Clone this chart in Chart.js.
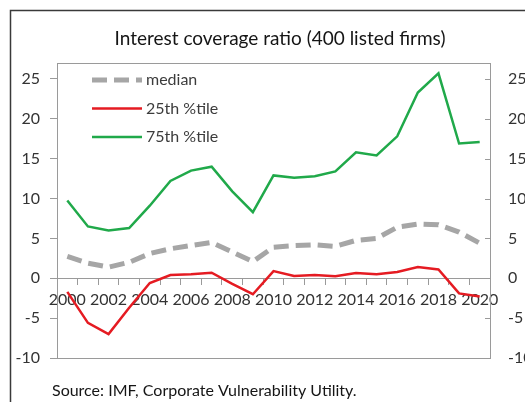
<!DOCTYPE html>
<html>
<head>
<meta charset="utf-8">
<script src="https://cdn.jsdelivr.net/npm/chart.js@4"></script>
<style>
  html, body { margin: 0; padding: 0; background: #fff; }
  #wrap { width: 525px; height: 402px; position: relative; }
</style>
</head>
<body>
<div id="wrap"><canvas id="chart" width="525" height="402"></canvas></div>
<script>
// values
const years = ["2000", "2001", "2002", "2003", "2004", "2005", "2006", "2007", "2008", "2009", "2010",
               "2011", "2012", "2013", "2014", "2015", "2016", "2017", "2018", "2019", "2020"];
const median = [2.75, 1.9, 1.4, 2.0, 3.1, 3.7, 4.1, 4.5, 3.3, 2.1, 3.9, 4.1, 4.2, 4.0, 4.75, 5.0, 6.4, 6.8, 6.7, 5.8, 4.4];
const p25 = [-1.7, -5.6, -7.0, -3.7, -0.6, 0.4, 0.5, 0.7, -0.7, -2.0, 0.9, 0.3, 0.4, 0.25, 0.65, 0.5, 0.8, 1.4, 1.1, -1.9, -2.3];
const p75 = [9.75, 6.5, 6.0, 6.3, 9.1, 12.2, 13.5, 14.0, 10.9, 8.3, 12.9, 12.6, 12.8, 13.4, 15.8, 15.4, 17.8, 23.3, 25.7, 16.9, 17.1];
const seriesNames = ["median", "25th %tile", "75th %tile"];
const titleText = "Interest coverage ratio (400 listed firms)";
const sourceText = "Source: IMF, Corporate Vulnerability Utility.";

const FONT = "Lato, 'Open Sans', sans-serif";
const AXIS_GREY = "#9a9a9a";

// frame, title, source, legend and the inward ticks of the right axis
const decorations = {
    id: "decorations",
    beforeDraw(chart) {
        const ctx = chart.ctx;
        ctx.save();
        ctx.fillStyle = "#fff";
        ctx.fillRect(0, 0, chart.width, chart.height);
        ctx.strokeStyle = "#3a3a3a";
        ctx.lineWidth = 1.5;
        ctx.strokeRect(10.5, 10.5, 600, 500);
        ctx.restore();
    },
    afterDraw(chart) {
        const ctx = chart.ctx;
        const area = chart.chartArea;
        ctx.save();

        // plot border
        ctx.strokeStyle = AXIS_GREY;
        ctx.lineWidth = 1;
        ctx.strokeRect(Math.round(area.left) + 0.5, Math.round(area.top) + 0.5,
                       Math.round(area.right - area.left), Math.round(area.bottom - area.top));

        // right axis ticks point inward
        const y2 = chart.scales.y2;
        y2.ticks.forEach(t => {
            const py = Math.round(y2.getPixelForValue(t.value)) + 0.5;
            ctx.beginPath();
            ctx.moveTo(area.right - 5, py);
            ctx.lineTo(area.right, py);
            ctx.stroke();
        });

        // title and source
        ctx.fillStyle = "#151515";
        ctx.font = "19px " + FONT;
        ctx.textAlign = "center";
        ctx.textBaseline = "middle";
        ctx.fillText(titleText, 280, 39);
        ctx.textAlign = "left";
        ctx.font = "16px " + FONT;
        ctx.fillText(sourceText, 52, 391);

        // legend inside the plot
        ctx.font = "16px " + FONT;
        ctx.fillStyle = "#3c3c3c";
        chart.data.datasets.forEach((ds, i) => {
            const ly = 80 + i * 28.5;
            ctx.save();
            ctx.strokeStyle = ds.borderColor;
            ctx.lineWidth = ds.borderWidth;
            ctx.setLineDash(ds.borderDash || []);
            ctx.lineCap = ds.borderCapStyle || "butt";
            ctx.beginPath();
            ctx.moveTo(92, ly);
            ctx.lineTo(142, ly);
            ctx.stroke();
            ctx.restore();
            ctx.fillText(ds.label, 146, ly);
        });
        ctx.restore();
    }
};

const ctx = document.getElementById("chart").getContext("2d");
new Chart(ctx, {
    type: "line",
    data: {
        labels: years,
        datasets: [
            { label: seriesNames[0], data: median, borderColor: "#a6a6a6", borderWidth: 5, borderDash: [15, 7] },
            { label: seriesNames[1], data: p25, borderColor: "#e51b22", borderWidth: 2.5 },
            { label: seriesNames[2], data: p75, borderColor: "#20a94a", borderWidth: 2.5 }
        ]
    },
    options: {
        responsive: false,
        animation: false,
        devicePixelRatio: 1,
        layout: { padding: { top: 63, bottom: 44, left: 0, right: 0 } },
        elements: { point: { radius: 0 }, line: { tension: 0 } },
        plugins: { legend: { display: false }, title: { display: false }, tooltip: { enabled: false } },
        scales: {
            x: {
                type: "category",
                position: { y: 0 },
                offset: true,
                border: { display: true, color: AXIS_GREY },
                grid: { offset: true, drawOnChartArea: false, drawTicks: true, tickLength: 6, color: AXIS_GREY },
                ticks: {
                    autoSkip: false, maxRotation: 0, padding: 6, color: "#333",
                    font: { family: FONT, size: 16 },
                    callback: (v, i) => (i % 2 === 0 ? years[i] : "")
                }
            },
            y: {
                position: "left",
                min: -10, max: 27,
                border: { display: false },
                grid: { drawOnChartArea: false, drawTicks: true, tickLength: 7, color: AXIS_GREY },
                ticks: { stepSize: 5, includeBounds: false, padding: 10, color: "#333", font: { family: FONT, size: 16 } },
                afterFit: s => { s.width = 57; }
            },
            y2: {
                position: "right",
                min: -10, max: 27,
                border: { display: false },
                grid: { drawOnChartArea: false, drawTicks: false },
                ticks: { stepSize: 5, includeBounds: false, padding: 18, color: "#333", font: { family: FONT, size: 16 } },
                afterFit: s => { s.width = 35; }
            }
        }
    },
    plugins: [decorations]
});
</script>
</body>
</html>
